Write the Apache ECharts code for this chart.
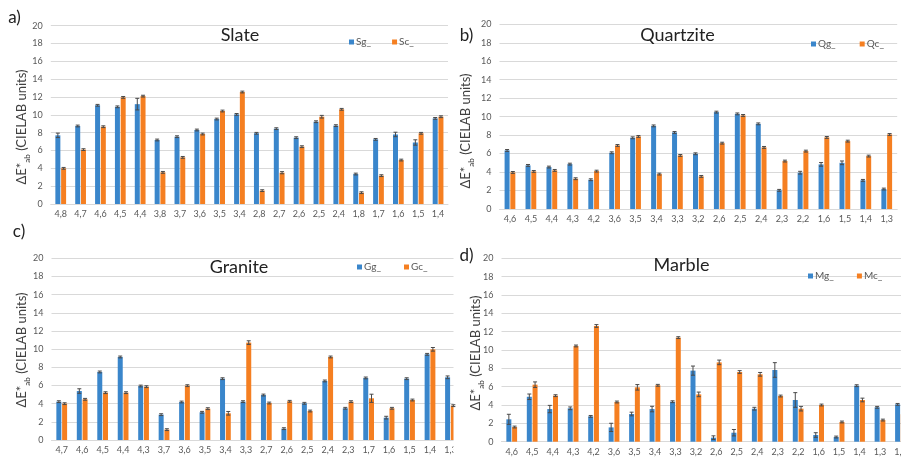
<!DOCTYPE html>
<html>
<head>
<meta charset="utf-8">
<script src="https://cdn.jsdelivr.net/npm/echarts@6/dist/echarts.min.js"></script>
<style>html,body{margin:0;padding:0;background:#fff}#c{width:901px;height:460px}</style>
</head>
<body>
<div id="c"></div>
<script>
// ---------- data ----------
const yTicks = [0,2,4,6,8,10,12,14,16,18,20];

const slateCats = ['4,8','4,7','4,6','4,5','4,4','3,8','3,7','3,6','3,5','3,4','2,8','2,7','2,6','2,5','2,4','1,8','1,7','1,6','1,5','1,4'];
const sgVals = [7.7,8.75,11.07,10.9,11.2,7.18,7.55,8.3,9.53,10.05,7.93,8.45,7.44,9.23,8.79,3.36,7.25,7.8,6.9,9.6];
const sgErr  = [0.25,0.1,0.1,0.1,0.65,0.1,0.1,0.1,0.1,0.1,0.1,0.1,0.1,0.1,0.1,0.1,0.1,0.25,0.3,0.1];
const scVals = [4.0,6.1,8.67,11.96,12.1,3.55,5.23,7.85,10.43,12.56,1.5,3.51,6.43,9.79,10.62,1.27,3.18,4.93,7.93,9.79];
const scErr  = [0.1,0.1,0.1,0.1,0.1,0.1,0.1,0.1,0.1,0.1,0.1,0.12,0.1,0.15,0.1,0.1,0.1,0.1,0.1,0.1];

const quartziteCats = ['4,6','4,5','4,4','4,3','4,2','3,6','3,5','3,4','3,3','3,2','2,6','2,5','2,4','2,3','2,2','1,6','1,5','1,4','1,3'];
const qgVals = [6.34,4.72,4.54,4.86,3.17,6.09,7.71,9.0,8.29,5.98,10.49,10.3,9.22,2.02,3.93,4.83,5.0,3.1,2.16];
const qgErr  = [0.1,0.1,0.1,0.1,0.1,0.1,0.1,0.1,0.1,0.1,0.1,0.1,0.1,0.1,0.15,0.2,0.2,0.1,0.1];
const qcVals = [3.96,4.07,4.18,3.28,4.1,6.88,7.86,3.78,5.8,3.53,7.13,10.13,6.67,5.19,6.27,7.75,7.35,5.73,8.07];
const qcErr  = [0.1,0.1,0.1,0.1,0.1,0.1,0.1,0.1,0.1,0.1,0.1,0.1,0.1,0.1,0.1,0.1,0.1,0.1,0.1];

const graniteCats = ['4,7','4,6','4,5','4,4','4,3','3,7','3,6','3,5','3,4','3,3','2,7','2,6','2,5','2,4','2,3','1,7','1,6','1,5','1,4','1,3'];
const ggVals = [4.22,5.39,7.49,9.14,5.94,2.79,4.18,3.05,6.75,4.22,4.95,1.25,4.04,6.5,3.49,6.83,2.46,6.75,9.43,6.9];
const ggErr  = [0.1,0.25,0.1,0.1,0.1,0.1,0.1,0.1,0.1,0.1,0.1,0.1,0.1,0.1,0.1,0.1,0.15,0.1,0.1,0.15];
const gcVals = [4.0,4.48,5.21,5.21,5.87,1.14,5.98,3.45,2.94,10.72,4.07,4.26,3.19,9.14,4.22,4.59,3.49,4.4,9.98,3.78];
const gcErr  = [0.1,0.1,0.1,0.1,0.1,0.1,0.1,0.1,0.2,0.2,0.1,0.1,0.1,0.1,0.1,0.45,0.1,0.1,0.2,0.1];

const marbleCats = ['4,6','4,5','4,4','4,3','4,2','3,6','3,5','3,4','3,3','3,2','2,6','2,5','2,4','2,3','2,2','1,6','1,5','1,4','1,3','1,2'];
const mgVals = [2.44,4.9,3.56,3.64,2.76,1.56,3.02,3.56,4.36,7.75,0.44,0.98,3.6,7.82,4.55,0.73,0.51,6.11,3.75,4.07];
const mgErr  = [0.55,0.3,0.4,0.15,0.1,0.45,0.2,0.3,0.1,0.5,0.2,0.35,0.15,0.8,0.8,0.25,0.1,0.1,0.1,0.1];
const mcVals = [1.6,6.22,5.02,10.44,12.62,4.33,5.93,6.15,11.35,5.16,8.65,7.6,7.35,4.98,3.6,4.0,2.15,4.55,2.36,3.0];
const mcErr  = [0.1,0.3,0.1,0.1,0.15,0.1,0.3,0.1,0.1,0.25,0.25,0.15,0.2,0.1,0.25,0.1,0.1,0.2,0.1,0.1];

// ---------- styling ----------
const FONT = 'Lato, "Open Sans", "Liberation Sans", sans-serif';
const BLUE = '#3a86cb';
const ORANGE = '#f57f21';
const ERRC = '#4a4a4a';
const GRIDC = '#d9d9d9';
const LABC = '#595959';
const BARW = 5;
const BARGAP = 0.15;

const panels = [
  {cats: slateCats, names: ['Sg_','Sc_'], vals: [sgVals, scVals], errs: [sgErr, scErr],
   grid: {left: 50.8, top: 25.7, width: 397.2, height: 178.3}, legend: {left: 344, top: 32, gap: 21},
   title: 'Slate', titlePos: [240, 35], tag: 'a)', tagPos: [14.5, 18], namePos: [22, 127], front: false},
  {cats: quartziteCats, names: ['Qg_','Qc_'], vals: [qgVals, qcVals], errs: [qgErr, qcErr],
   grid: {left: 499.5, top: 24.3, width: 397.7, height: 184.7}, legend: {left: 806, top: 34, gap: 24},
   title: 'Quartzite', titlePos: [677.5, 35.5], tag: 'b)', tagPos: [466.5, 36], namePos: [466, 131], front: false},
  {cats: graniteCats, names: ['Gg_','Gc_'], vals: [ggVals, gcVals], errs: [ggErr, gcErr],
   grid: {left: 51.5, top: 258.3, width: 409.2, height: 181.7}, legend: {left: 352, top: 257, gap: 23},
   title: 'Granite', titlePos: [239, 267.5], tag: 'c)', tagPos: [19, 232], namePos: [22, 350], front: false},
  {cats: marbleCats, names: ['Mg_','Mc_'], vals: [mgVals, mcVals], errs: [mgErr, mcErr],
   grid: {left: 501.5, top: 258.3, width: 409.2, height: 183.4}, legend: {left: 803, top: 266, gap: 23},
   title: 'Marble', titlePos: [681.5, 265], tag: 'd)', tagPos: [466.5, 256], namePos: [476, 353], front: true}
];

const grid = [], xAxis = [], yAxis = [], series = [], legend = [], graphic = [];

// white backing of panel d, which hides the clipped right end of panel c
graphic.push({type: 'rect', z: 3, shape: {x: 453.5, y: 228, width: 460, height: 240}, style: {fill: '#fff'}});

panels.forEach((p, k) => {
  const zA = p.front ? 4 : 0;
  const zS = p.front ? 5 : 2;
  grid.push(Object.assign({outerBoundsMode: 'none', containLabel: false}, p.grid));
  xAxis.push({
    type: 'category', gridIndex: k, data: p.cats, z: zA,
    axisTick: {show: false},
    axisLine: {lineStyle: {color: GRIDC, width: 1}},
    axisLabel: {interval: 0, fontSize: 9, color: LABC, fontFamily: FONT, margin: 6}
  });
  yAxis.push({
    type: 'value', gridIndex: k, min: yTicks[0], max: yTicks[yTicks.length - 1], interval: 2, z: zA,
    axisLine: {show: false}, axisTick: {show: false},
    splitLine: {lineStyle: {color: GRIDC, width: 1}},
    axisLabel: {fontSize: 9, color: LABC, fontFamily: FONT, margin: 8}
  });
  const colors = [BLUE, ORANGE];
  p.names.forEach((nm, j) => {
    series.push({
      type: 'bar', name: nm, xAxisIndex: k, yAxisIndex: k, z: zS,
      data: p.vals[j], barWidth: BARW, barGap: (BARGAP * 100) + '%',
      itemStyle: {color: colors[j]}, animation: false
    });
    const off = (j === 0 ? -1 : 1) * (BARW + BARW * BARGAP) / 2;
    series.push({
      type: 'custom', xAxisIndex: k, yAxisIndex: k, z: zS + 1, silent: true, animation: false,
      data: p.vals[j].map((v, i) => [i, v, p.errs[j][i]]),
      encode: {x: 0, y: 1},
      renderItem: function (params, api) {
        const i = api.value(0), v = api.value(1), e = api.value(2);
        const hi = api.coord([i, v + e]);
        const lo = api.coord([i, v - e]);
        const x = hi[0] + off;
        const cw = 2;
        const st = {stroke: ERRC, lineWidth: 1, fill: null};
        return {type: 'group', children: [
          {type: 'line', shape: {x1: x, y1: hi[1], x2: x, y2: lo[1]}, style: st},
          {type: 'line', shape: {x1: x - cw, y1: hi[1], x2: x + cw, y2: hi[1]}, style: st},
          {type: 'line', shape: {x1: x - cw, y1: lo[1], x2: x + cw, y2: lo[1]}, style: st}
        ]};
      }
    });
  });
  legend.push({
    data: p.names, left: p.legend.left, top: p.legend.top, itemGap: p.legend.gap,
    itemWidth: 5, itemHeight: 5, icon: 'rect', z: p.front ? 6 : 2,
    textStyle: {fontSize: 10, color: LABC, fontFamily: FONT, padding: [0, 0, 0, -3]}
  });
  graphic.push({type: 'text', z: 10, x: p.titlePos[0], y: p.titlePos[1],
    style: {text: p.title, align: 'center', verticalAlign: 'middle', fontSize: 18, fontFamily: FONT, fill: '#222'}});
  graphic.push({type: 'text', z: 10, x: p.tagPos[0], y: p.tagPos[1],
    style: {text: p.tag, align: 'center', verticalAlign: 'middle', fontSize: 17, fontFamily: FONT, fill: '#222'}});
  graphic.push({type: 'text', z: 10, x: p.namePos[0], y: p.namePos[1], rotation: Math.PI / 2,
    style: {
      text: '{m|ΔE*}{s|ab}{m| (CIELAB units)}', align: 'center', verticalAlign: 'middle',
      fill: '#404040', fontFamily: FONT,
      rich: {
        m: {fontSize: 13, fontFamily: FONT, fill: '#404040', lineHeight: 18, verticalAlign: 'middle'},
        s: {fontSize: 8, fontFamily: FONT, fill: '#404040', lineHeight: 18, verticalAlign: 'bottom', padding: [5, 0, 0, 0]}
      }
    }});
});

const chart = echarts.init(document.getElementById('c'), null, {renderer: 'canvas'});
chart.setOption({
  animation: false,
  backgroundColor: '#fff',
  textStyle: {fontFamily: FONT},
  grid, xAxis, yAxis, series, legend, graphic
});
</script>
</body>
</html>
